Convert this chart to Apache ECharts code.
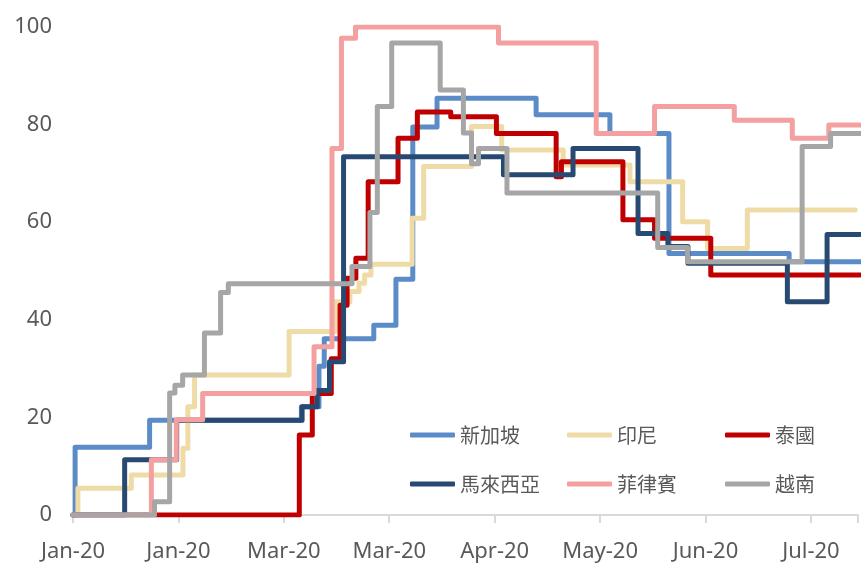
<!DOCTYPE html>
<html>
<head>
<meta charset="utf-8">
<script src="https://cdn.jsdelivr.net/npm/echarts@6/dist/echarts.min.js"></script>
<style>
  html, body { margin: 0; padding: 0; background: #fff; }
  #chart { width: 861px; height: 569px; }
</style>
</head>
<body>
<div id="chart"></div>
<script>
// day index counted from 1 Jan 2020, value = stringency index
var monthNames = ['Jan', 'Feb', 'Mar', 'Apr', 'May', 'Jun', 'Jul', 'Aug', 'Sep', 'Oct', 'Nov', 'Dec'];
var countries = ['新加坡', '印尼', '泰國', '馬來西亞', '菲律賓', '越南'];
var colors = ['#5b8cc8', '#efdba6', '#c00000', '#284a72', '#f4a0a0', '#a6a6a6'];

var singapore = [[0, 0], [0.6, 13.9], [21.8, 19.4], [65, 22.2], [70, 30.5], [71.5, 36.1], [85.6, 38.9],
    [91.9, 48.3], [96.7, 79.5], [103.6, 85.4], [131.8, 82.0], [152.8, 78.2], [169.6, 53.6], [203.8, 51.9], [224, 51.9]];
var indonesia = [[0, 0], [1.4, 5.5], [16.6, 8.2], [31.3, 13.7], [32.7, 22.2], [34.6, 28.7], [61.5, 37.6],
    [74.6, 43.7], [78.8, 45.8], [81.4, 47.5], [83, 49.2], [84.8, 51.4], [96.5, 60.8], [99.8, 71.4],
    [113.4, 79.6], [122, 74.8], [139.5, 71.7], [158.5, 68.3], [173.5, 60.1], [180.6, 54.6], [191.9, 62.5], [222.6, 62.5]];
var thailand = [[0, 0], [64.4, 16.4], [68.1, 24.9], [73.5, 32], [76, 43], [78, 48.5], [80.5, 52.6],
    [84, 68.3], [92.5, 77.2], [98, 82.6], [107.5, 81.6], [120.5, 78.2], [137.5, 69.3], [139, 72.4],
    [156.5, 60.5], [165.5, 56.7], [181.5, 49.2], [224, 49.2]];
var malaysia = [[0, 0], [14.7, 11.3], [29.5, 19.4], [65.2, 22.2], [69.5, 25.5], [73, 31.4], [77, 73.4],
    [122.5, 69.7], [142.3, 75.1], [160.8, 57.7], [169.3, 55], [175, 51.6], [203.3, 43.7], [214.6, 57.5], [224, 57.5]];
var philippines = [[0, 0], [22.3, 11.3], [29.4, 19.5], [36.9, 24.9], [68.6, 34.5], [73.7, 75.1], [76.4, 97.7],
    [80.4, 100], [121.1, 96.7], [148.9, 78.2], [165.5, 83.7], [188.2, 80.9], [204.7, 77.2], [215.1, 79.9], [224, 79.9]];
var vietnam = [[0, 0], [23.2, 2.7], [27.5, 25], [29, 26.6], [31.2, 28.7], [37.4, 37.3], [42, 45.6], [44.2, 47.4],
    [79.4, 50.9], [84.5, 62], [86.6, 83.7], [90.7, 96.7], [104.5, 87.1], [111.1, 78.3], [113.4, 72],
    [115.4, 75.1], [123.5, 66], [166.4, 54.8], [174.9, 51.9], [207.5, 75.5], [215.6, 78.2], [224, 78.2]];

var seriesData = [singapore, indonesia, thailand, malaysia, philippines, vietnam];

var chart = echarts.init(document.getElementById('chart'), null, { renderer: 'canvas' });

var series = [];
for (var i = 0; i < countries.length; i++) {
    series.push({
        name: countries[i],
        type: 'line',
        step: 'end',
        showSymbol: false,
        data: seriesData[i],
        lineStyle: { color: colors[i], width: 5, cap: 'round', join: 'round' },
        itemStyle: { color: colors[i] },
        animation: false
    });
}

function legendBlock(names, left) {
    return {
        data: names,
        orient: 'vertical',
        left: left,
        top: 425,
        padding: 0,
        itemGap: 29,
        itemWidth: 45,
        itemHeight: 5,
        icon: 'roundRect',
        textStyle: {
            color: '#595959',
            fontSize: 20,
            lineHeight: 20,
            fontFamily: 'Noto Sans CJK TC'
        }
    };
}

var option = {
    backgroundColor: '#fff',
    animation: false,
    grid: { left: 73, right: 0, top: 27, bottom: 54 },
    legend: [
        legendBlock(['新加坡', '馬來西亞'], 410),
        legendBlock(['印尼', '菲律賓'], 567),
        legendBlock(['泰國', '越南'], 725)
    ],
    xAxis: {
        type: 'value',
        min: 0,
        max: 223.4,
        interval: 30,
        splitLine: { show: false },
        axisLine: { show: true, lineStyle: { color: '#d9d9d9', width: 2 } },
        axisTick: { show: true, length: 8, lineStyle: { color: '#d9d9d9', width: 2 } },
        axisLabel: {
            color: '#595959',
            fontSize: 22,
            fontFamily: 'Noto Sans',
            margin: 26,
            formatter: function (v) {
                if (v % 30 !== 0) return '';
                var d = new Date(2020, 0, 1 + v);
                return monthNames[d.getMonth()] + '-20';
            }
        }
    },
    yAxis: {
        type: 'value',
        min: 0,
        max: 100,
        interval: 20,
        splitLine: { show: false },
        axisLine: { show: false },
        axisTick: { show: false },
        axisLabel: {
            color: '#595959',
            fontSize: 22,
            fontFamily: 'Noto Sans',
            margin: 21
        }
    },
    series: series
};

chart.setOption(option);
</script>
</body>
</html>
